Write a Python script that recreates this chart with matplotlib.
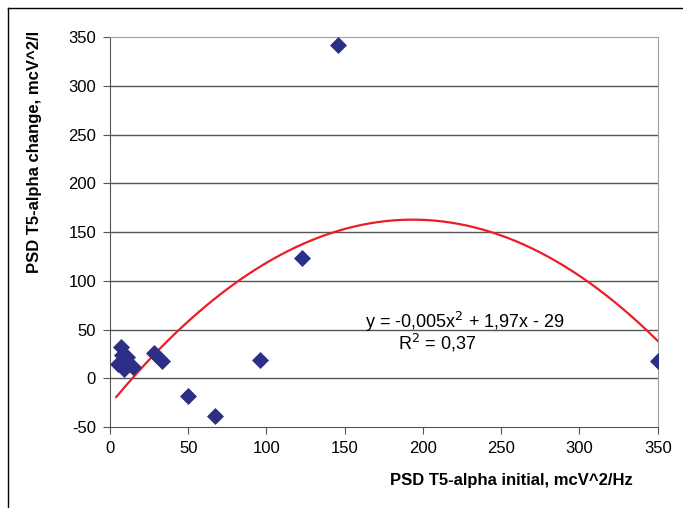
import numpy as np
import matplotlib.pyplot as plt
from matplotlib.lines import Line2D

plt.rcParams['font.family'] = ['Liberation Sans', 'DejaVu Sans']
plt.rcParams['axes.unicode_minus'] = False

# scatter data
x_initial = [5, 7, 8, 9, 10, 11, 15, 28, 33, 50, 67, 96, 123, 146, 350]
y_change = [15, 32, 24, 10, 18, 22, 12, 26, 18, -18, -39, 19, 124, 342, 18]

# polynomial trendline (a*x^2 + b*x + c), unrounded values behind the printed label
trend_coef = [-0.00507, 1.961, -26.8]
trend_label = 'y = -0,005x$^2$ + 1,97x - 29'
r2_label = 'R$^2$ = 0,37'

x_ticks = [0, 50, 100, 150, 200, 250, 300, 350]
y_ticks = [-50, 0, 50, 100, 150, 200, 250, 300, 350]

fig = plt.figure(figsize=(6.83, 5.08), dpi=100)
ax = fig.add_axes([0.161, 0.159, 0.802, 0.768])

for yt in y_ticks[1:-1]:
    ax.axhline(yt, color='#555555', lw=1.0, zorder=1)

xs = np.linspace(min(x_initial) - 1, max(x_initial), 200)
ax.plot(xs, np.polyval(trend_coef, xs), color='#ee1c24', lw=1.6, zorder=2)

ax.scatter(x_initial, y_change, marker='D', s=75, color='#2b2f86', zorder=3, linewidths=0)

ax.set_xlim(0, 350)
ax.set_ylim(-50, 350)
ax.set_xticks(x_ticks)
ax.set_yticks(y_ticks)
ax.tick_params(labelsize=12, direction='out', length=5, color='#555555', pad=5)

for s in ['top', 'right']:
    ax.spines[s].set_color('#a0a0a0')
for s in ['left', 'bottom']:
    ax.spines[s].set_color('#555555')

ax.text(227, 58, trend_label, ha='center', va='center', fontsize=13)
ax.text(209, 36, r2_label, ha='center', va='center', fontsize=13)

fig.text(0.748, 0.055, 'PSD T5-alpha initial, mcV^2/Hz', ha='center', va='center',
         fontsize=12, fontweight='bold')
fig.text(0.051, 0.70, 'PSD T5-alpha change, mcV^2/l', ha='center', va='center',
         rotation=90, fontsize=12, fontweight='bold')

# outer frame lines
fig.add_artist(Line2D([0.012, 1.0], [0.984, 0.984], color='black', lw=1.0))
fig.add_artist(Line2D([0.012, 0.012], [0.0, 0.984], color='black', lw=1.0))

fig.savefig('out.png', dpi=100)
